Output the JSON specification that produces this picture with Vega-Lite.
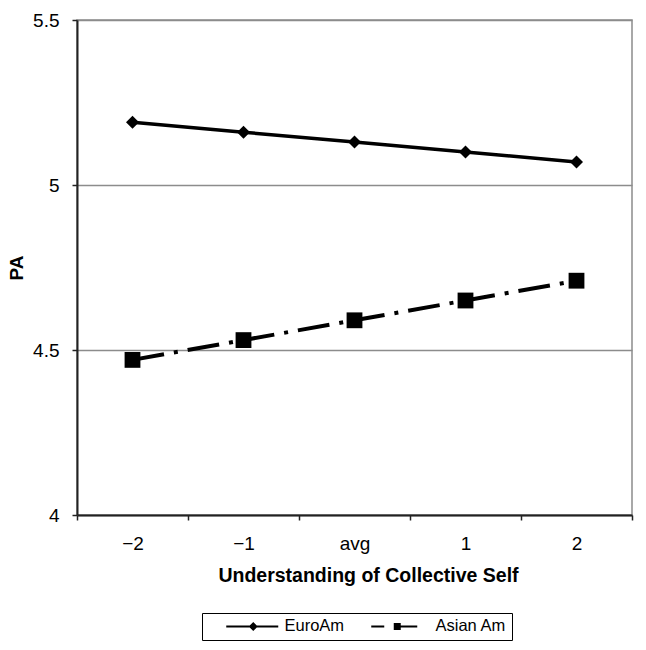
{
  "$schema": "https://vega.github.io/schema/vega-lite/v6.json",
  "autosize": "none",
  "width": 555,
  "height": 495,
  "padding": {"left": 77, "top": 20, "right": 14, "bottom": 135},
  "background": "white",
  "config": {
    "font": "Liberation Sans",
    "view": {"stroke": "#8c8c8c", "strokeWidth": 1.5},
    "axis": {"labelFont": "Liberation Sans", "titleFont": "Liberation Sans", "labelColor": "black", "titleColor": "black"}
  },
  "data": {
    "values": [
      {"level": -2, "group": "EuroAm", "PA": 5.19},
      {"level": -1, "group": "EuroAm", "PA": 5.16},
      {"level": 0, "group": "EuroAm", "PA": 5.13},
      {"level": 1, "group": "EuroAm", "PA": 5.10},
      {"level": 2, "group": "EuroAm", "PA": 5.07},
      {"level": -2, "group": "Asian Am", "PA": 4.47},
      {"level": -1, "group": "Asian Am", "PA": 4.53},
      {"level": 0, "group": "Asian Am", "PA": 4.59},
      {"level": 1, "group": "Asian Am", "PA": 4.65},
      {"level": 2, "group": "Asian Am", "PA": 4.71}
    ]
  },
  "encoding": {
    "x": {
      "field": "level", "type": "quantitative",
      "scale": {"domain": [-2.5, 2.5], "nice": false, "zero": false},
      "axis": {
        "title": "Understanding of Collective Self",
        "titleFontSize": 19.5, "titleFontWeight": "bold", "titlePadding": 13, "titleX": 291,
        "values": [-2.5, -1.5, -0.5, 0.5, 1.5, 2.5],
        "labelExpr": "datum.value == -2.5 ? '−2' : datum.value == -1.5 ? '−1' : datum.value == -0.5 ? 'avg' : datum.value == 0.5 ? '1' : datum.value == 1.5 ? '2' : ''",
        "labelOffset": 55.5, "labelAlign": "center", "labelFlush": false, "labelOverlap": false,
        "labelFontSize": 19, "labelPadding": 14,
        "grid": false, "domainColor": "#222", "domainWidth": 2,
        "tickColor": "#222", "tickWidth": 1.5, "tickSize": 5
      }
    },
    "y": {
      "field": "PA", "type": "quantitative",
      "scale": {"domain": [4, 5.5], "nice": false, "zero": false},
      "axis": {
        "title": "PA", "titleFontSize": 19, "titleFontWeight": "bold", "titlePadding": 6,
        "values": [4, 4.5, 5, 5.5], "format": "~g",
        "labelFontSize": 19, "labelPadding": 13,
        "grid": true, "gridColor": "#8c8c8c", "gridWidth": 1.5,
        "domainColor": "#222", "domainWidth": 2,
        "tickColor": "#222", "tickWidth": 1.5, "tickSize": 5
      }
    }
  },
  "layer": [
    {
      "transform": [{"filter": "datum.group == 'EuroAm'"}],
      "mark": {"type": "line", "color": "black", "strokeWidth": 3.5},
      "encoding": {}
    },
    {
      "transform": [{"filter": "datum.group == 'Asian Am'"}],
      "mark": {"type": "line", "color": "black", "strokeWidth": 4, "strokeDash": [32, 10, 4, 10]},
      "encoding": {}
    },
    {
      "transform": [{"filter": "datum.group == 'EuroAm'"}],
      "mark": {"type": "point", "filled": true, "color": "black", "opacity": 1, "size": 169, "shape": "diamond"}
    },
    {
      "transform": [{"filter": "datum.group == 'Asian Am'"}],
      "mark": {"type": "point", "filled": true, "color": "black", "opacity": 1, "size": 250, "shape": "square"}
    },
    {
      "transform": [{"filter": "datum.PA < 0"}],
      "mark": {"type": "point", "filled": true, "color": "black", "opacity": 1, "size": 100},
      "encoding": {
        "shape": {
          "field": "group", "type": "nominal",
          "scale": {"domain": ["EuroAm", "Asian Am"], "range": ["M2.2,-0.2H12.6V0.2H2.2ZM7.6,-0.9L8.5,0L7.6,0.9L6.7,0Z", "M1,-0.2H3.6V0.2H1ZM5.5,-0.7H6.9V0.7H5.5ZM6.9,-0.2H10.2V0.2H6.9Z"]},
          "legend": {
            "title": null, "orient": "none", "legendX": 125, "legendY": 593,
            "direction": "horizontal",
            "strokeColor": "black", "padding": 5,
            "symbolSize": 100, "symbolFillColor": "black", "symbolStrokeColor": "black", "symbolStrokeWidth": 0, "symbolOpacity": 1,
            "labelOffset": 61, "columnPadding": 13,
            "labelFontSize": 16.5, "labelFont": "Liberation Sans", "labelColor": "black"
          }
        }
      }
    }
  ]
}
